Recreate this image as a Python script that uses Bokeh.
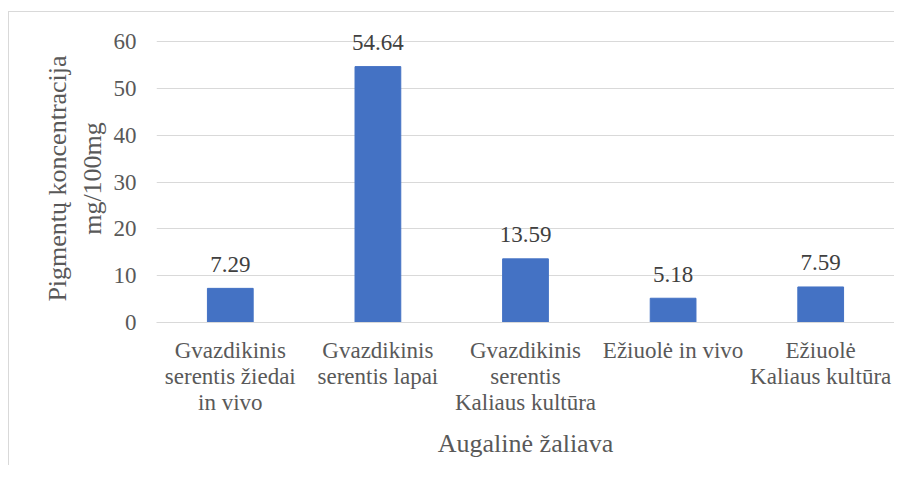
from bokeh.plotting import figure
from bokeh.models import Range1d, FixedTicker, LinearAxis, ColumnDataSource
from bokeh.core.properties import value
from bokeh.embed import file_html
from bokeh.resources import INLINE

categories = [
    "Gvazdikinis\nserentis žiedai\nin vivo",
    "Gvazdikinis\nserentis lapai",
    "Gvazdikinis\nserentis\nKaliaus kultūra",
    "Ežiuolė in vivo",
    "Ežiuolė\nKaliaus kultūra",
]
values = [7.29, 54.64, 13.59, 5.18, 7.59]
labels = ["%.2f" % v for v in values]
y_ticks = [0, 10, 20, 30, 40, 50, 60]
y_title = "Pigmentų koncentracija\nmg/100mg"
x_title = "Augalinė žaliava"

FONT = "Times New Roman"
TXT = "#595959"
GRID = "#d9d9d9"

xs = list(range(len(categories)))
lines = [c.split("\n") for c in categories]

p = figure(
    width=894, height=465,
    x_range=Range1d(-0.5, len(categories) - 0.5),
    y_range=Range1d(0, 61.5),
    output_backend="svg", toolbar_location=None,
    min_border_left=156, min_border_right=0,
    min_border_top=34, min_border_bottom=143,
)
p.outline_line_color = None
p.border_fill_color = None
p.background_fill_color = "white"
p.styles = {
    "background-image": "linear-gradient(#d9d9d9, #d9d9d9), linear-gradient(#d9d9d9, #d9d9d9)",
    "background-repeat": "no-repeat",
    "background-position": "8px 11px, 8px 11px",
    "background-size": "1px 100%, 100% 1px",
}

src = ColumnDataSource(dict(x=xs, top=values, lab=labels))
p.vbar(x="x", top="top", width=0.31, source=src, color="#4472C4")
p.text(x="x", y="top", text="lab", source=src, text_align="center",
       text_baseline="alphabetic", y_offset=-24, text_font=value(FONT),
       text_font_size="23px", text_color="#404040")

p.xgrid.grid_line_color = None
p.ygrid.grid_line_color = GRID
p.yaxis.ticker = FixedTicker(ticks=y_ticks)


def style_axis(ax):
    ax.major_tick_line_color = None
    ax.minor_tick_line_color = None
    ax.major_tick_out = 0
    ax.major_tick_in = 0
    ax.major_label_text_font = FONT
    ax.major_label_text_font_size = "23px"
    ax.major_label_text_color = TXT
    ax.axis_label_text_font = FONT
    ax.axis_label_text_font_size = "26px"
    ax.axis_label_text_font_style = "normal"
    ax.axis_label_text_color = TXT


yax = p.yaxis[0]
style_axis(yax)
yax.axis_line_color = None
yax.major_label_standoff = 20
yax.axis_label = y_title
yax.axis_label_standoff = 4

xax = p.xaxis[0]
style_axis(xax)
xax.ticker = FixedTicker(ticks=xs)
xax.axis_line_color = GRID
xax.major_label_standoff = 15
xax.major_label_overrides = {i: (l[0] if len(l) > 0 else "") for i, l in enumerate(lines)}

for k in (1, 2):
    ax = LinearAxis(ticker=FixedTicker(ticks=xs))
    style_axis(ax)
    ax.axis_line_color = None
    ax.major_label_standoff = -2
    ax.major_label_overrides = {i: (l[k] if len(l) > k else "") for i, l in enumerate(lines)}
    if k == 2:
        ax.axis_label = x_title
        ax.axis_label_standoff = 11
    p.add_layout(ax, "below")

open("out.html", "w").write(file_html(p, INLINE))
